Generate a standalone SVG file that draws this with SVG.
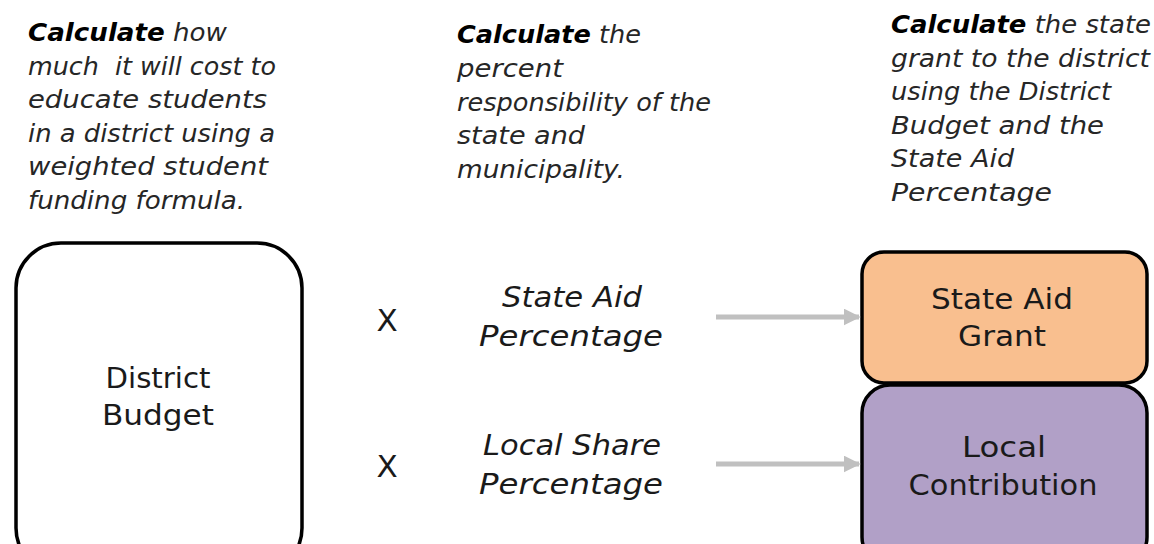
<svg xmlns="http://www.w3.org/2000/svg" width="1154" height="544" viewBox="0 0 1154 544">
  <style>
    .note { font-family: "DejaVu Sans", "Liberation Sans", sans-serif; font-size: 25px; font-style: italic; fill: #262626; }
    .note .b { font-weight: bold; fill: #000; }
    .lbl { font-family: "DejaVu Sans", "Liberation Sans", sans-serif; font-size: 27.5px; fill: #1a1a1a; text-anchor: middle; }
    .it { font-style: italic; }
    .mul { font-size: 31px; }
    .box { stroke: #000; stroke-width: 3.5; }
    .conn { stroke: #c0c0c0; stroke-width: 5; fill: none; }
  </style>
  <defs>
    <marker id="head" viewBox="0 0 10 10" refX="9" refY="5" markerWidth="3.4" markerHeight="3.4" orient="auto" markerUnits="strokeWidth">
      <path d="M0,0 L10,5 L0,10 z" fill="#c0c0c0"/>
    </marker>
  </defs>

  <rect width="1154" height="544" fill="#fff"/>

  <!-- step descriptions -->
  <g id="note-budget" class="note">
    <text x="28" y="41" textLength="199" lengthAdjust="spacingAndGlyphs"><tspan class="b">Calculate</tspan> how</text>
    <text x="28" y="75" textLength="248" lengthAdjust="spacingAndGlyphs">much&#160; it will cost to</text>
    <text x="28" y="108" textLength="239" lengthAdjust="spacingAndGlyphs">educate students</text>
    <text x="28" y="142" textLength="247" lengthAdjust="spacingAndGlyphs">in a district using a</text>
    <text x="28" y="175" textLength="240" lengthAdjust="spacingAndGlyphs">weighted student</text>
    <text x="28" y="209" textLength="217" lengthAdjust="spacingAndGlyphs">funding formula.</text>
  </g>
  <g id="note-percent" class="note">
    <text x="457" y="43" textLength="184" lengthAdjust="spacingAndGlyphs"><tspan class="b">Calculate</tspan> the</text>
    <text x="457" y="77" textLength="106" lengthAdjust="spacingAndGlyphs">percent</text>
    <text x="457" y="111" textLength="254" lengthAdjust="spacingAndGlyphs">responsibility of the</text>
    <text x="457" y="144" textLength="128" lengthAdjust="spacingAndGlyphs">state and</text>
    <text x="457" y="178" textLength="168" lengthAdjust="spacingAndGlyphs">municipality.</text>
  </g>
  <g id="note-grant" class="note">
    <text x="891" y="33" textLength="260" lengthAdjust="spacingAndGlyphs"><tspan class="b">Calculate</tspan> the state</text>
    <text x="891" y="67" textLength="259" lengthAdjust="spacingAndGlyphs">grant to the district</text>
    <text x="891" y="100" textLength="220" lengthAdjust="spacingAndGlyphs">using the District</text>
    <text x="891" y="134" textLength="213" lengthAdjust="spacingAndGlyphs">Budget and the</text>
    <text x="891" y="167" textLength="123" lengthAdjust="spacingAndGlyphs">State Aid</text>
    <text x="891" y="201" textLength="161" lengthAdjust="spacingAndGlyphs">Percentage</text>
  </g>

  <!-- district budget -->
  <g id="district-budget">
    <rect class="box" x="16" y="243" width="286" height="330" rx="45" fill="#fff"/>
    <text class="lbl" x="158" y="388" textLength="105" lengthAdjust="spacingAndGlyphs">District</text>
    <text class="lbl" x="158" y="425" textLength="112" lengthAdjust="spacingAndGlyphs">Budget</text>
  </g>

  <!-- multipliers -->
  <g id="times-state">
    <text class="lbl mul" x="387" y="331">X</text>
  </g>
  <g id="times-local">
    <text class="lbl mul" x="387" y="477">X</text>
  </g>

  <!-- percentages -->
  <g id="state-aid-pct">
    <text class="lbl it" x="572" y="307" textLength="140" lengthAdjust="spacingAndGlyphs">State Aid</text>
    <text class="lbl it" x="571" y="346" textLength="184" lengthAdjust="spacingAndGlyphs">Percentage</text>
  </g>
  <g id="local-share-pct">
    <text class="lbl it" x="572" y="455" textLength="178" lengthAdjust="spacingAndGlyphs">Local Share</text>
    <text class="lbl it" x="571" y="494" textLength="184" lengthAdjust="spacingAndGlyphs">Percentage</text>
  </g>

  <!-- results -->
  <g id="state-aid-grant">
    <rect class="box" x="862" y="252" width="285" height="131" rx="22" fill="#f9bf8f"/>
    <text class="lbl" x="1002" y="309" textLength="142" lengthAdjust="spacingAndGlyphs">State Aid</text>
    <text class="lbl" x="1002" y="346" textLength="88" lengthAdjust="spacingAndGlyphs">Grant</text>
  </g>
  <g id="local-contribution">
    <rect class="box" x="862" y="385" width="285" height="180" rx="28" fill="#b1a0c7"/>
    <text class="lbl" x="1004" y="457" textLength="84" lengthAdjust="spacingAndGlyphs">Local</text>
    <text class="lbl" x="1003" y="495" textLength="189" lengthAdjust="spacingAndGlyphs">Contribution</text>
  </g>

  <!-- connectors -->
  <g id="connectors">
    <line class="conn" x1="716" y1="317" x2="859" y2="317" marker-end="url(#head)"/>
    <line class="conn" x1="716" y1="464" x2="859" y2="464" marker-end="url(#head)"/>
  </g>
</svg>
